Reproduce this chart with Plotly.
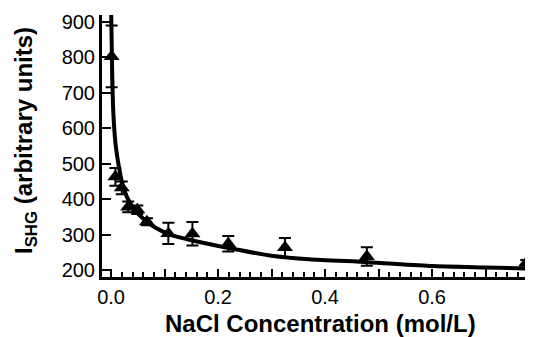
import plotly.graph_objects as go

# Measured data (NaCl concentration in mol/L, SHG intensity in arbitrary units)
conc = [0.001, 0.008, 0.020, 0.032, 0.049, 0.067, 0.107, 0.152, 0.219, 0.325, 0.478, 0.776]
ishg = [803, 463, 432, 378, 370, 336, 303, 302, 274, 263, 238, 220]
err = [87, 25, 18, 15, 12, 10, 30, 33, 22, 27, 26, 8]

# Fitted curve
fit_x = [0.0, 0.002, 0.004, 0.008, 0.0125, 0.02, 0.03, 0.045, 0.06, 0.08, 0.11, 0.15, 0.22, 0.30, 0.37, 0.48, 0.60, 0.70, 0.78]
fit_y = [940, 760, 650, 560, 510, 450, 405, 368, 345, 322, 300, 284, 262, 240, 230, 222, 211, 207, 204]

x_tickvals = [0.0, 0.1, 0.2, 0.3, 0.4, 0.5, 0.6, 0.7]
x_ticktext = ["0.0", "", "0.2", "", "0.4", "", "0.6", ""]
y_tickvals = [200, 300, 400, 500, 600, 700, 800, 900]

font_family = "Arial, Liberation Sans, sans-serif"

# page body has an 8px margin, so the figure is 8px smaller and everything is shifted by 8px
W, H = 525, 329
L, R, T, B = 94, 3, 7, 60
PW, PH = W - L - R, H - T - B

fig = go.Figure()
fig.add_trace(go.Scatter(
    x=fit_x, y=fit_y, mode="lines",
    line=dict(color="black", width=4, shape="spline", smoothing=0.6),
    hoverinfo="skip", showlegend=False,
))
fig.add_trace(go.Scatter(
    x=conc, y=ishg, mode="markers",
    marker=dict(symbol="triangle-up", size=14, color="black"),
    error_y=dict(type="data", array=err, color="black", thickness=2, width=6),
    showlegend=False,
))

fig.update_layout(
    width=W, height=H,
    margin=dict(l=L, r=R, t=T, b=B, autoexpand=False),
    paper_bgcolor="white", plot_bgcolor="white",
    font=dict(family=font_family, color="black", size=20),
    xaxis=dict(
        range=[-0.017, 0.783],
        tickvals=x_tickvals, ticktext=x_ticktext,
        ticks="inside", ticklen=8, tickwidth=2, tickcolor="black",
        minor=dict(dtick=0.02, ticks="inside", ticklen=5, tickwidth=2, tickcolor="black"),
        showline=True, linewidth=3, linecolor="black",
        showgrid=False, zeroline=False,
        tickfont=dict(size=20),
    ),
    yaxis=dict(
        range=[180, 920],
        tickvals=y_tickvals,
        ticks="inside", ticklen=9, tickwidth=2, tickcolor="black",
        showline=True, linewidth=3, linecolor="black",
        showgrid=False, zeroline=False,
        tickfont=dict(size=20),
    ),
    annotations=[
        dict(text="NaCl Concentration (mol/L)", xref="paper", yref="paper",
             x=(312 - L) / PW, y=-46 / PH, xanchor="center", yanchor="middle",
             showarrow=False, font=dict(size=24, weight="bold")),
        dict(text="I<sub>SHG</sub> (arbitrary units)", xref="paper", yref="paper",
             x=-(L - 17) / PW, y=(269 - 133) / PH, xanchor="center", yanchor="middle",
             textangle=-90, showarrow=False, font=dict(size=24, weight="bold")),
    ],
)

fig.write_html("out.html")
